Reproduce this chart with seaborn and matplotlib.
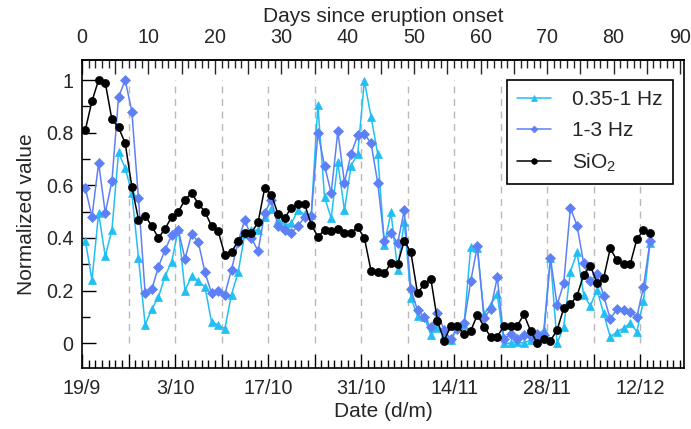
import numpy as np
import pandas as pd
import matplotlib
matplotlib.use("Agg")
import matplotlib.pyplot as plt
import seaborn as sns
from matplotlib.ticker import MultipleLocator, FuncFormatter

# ---------------- data ----------------
days = [d + 0.5 for d in range(86)]  # daily samples (days since onset)

sio2 = [0.81, 0.92, 1.00, 0.99, 0.85, 0.82, 0.76, 0.595, 0.47, 0.485,
        0.445, 0.40, 0.435, 0.48, 0.50, 0.545, 0.57, 0.53, 0.50, 0.445,
        0.425, 0.335, 0.345, 0.39, 0.42, 0.42, 0.46, 0.59, 0.565, 0.49,
        0.475, 0.515, 0.53, 0.53, 0.45, 0.405, 0.43, 0.425, 0.435, 0.42,
        0.42, 0.44, 0.40, 0.275, 0.27, 0.265, 0.305, 0.30, 0.39, 0.345,
        0.19, 0.225, 0.245, 0.085, 0.01, 0.065, 0.065, 0.035, 0.047, 0.108,
        0.063, 0.025, 0.025, 0.066, 0.066, 0.066, 0.11, 0.048, 0.0, 0.015,
        0.01, 0.05, 0.133, 0.148, 0.18, 0.26, 0.295, 0.23, 0.247, 0.36,
        0.316, 0.30, 0.30, 0.395, 0.43, 0.418]

hz_1_3 = [0.59, 0.48, 0.685, 0.495, 0.615, 0.935, 1.0, 0.88, 0.55, 0.19,
          0.205, 0.29, 0.355, 0.41, 0.43, 0.32, 0.415, 0.385, 0.27, 0.19,
          0.20, 0.185, 0.28, 0.385, 0.47, 0.40, 0.35, 0.495, 0.545, 0.445,
          0.43, 0.42, 0.445, 0.48, 0.485, 0.80, 0.675, 0.57, 0.805, 0.61,
          0.72, 0.79, 0.795, 0.76, 0.61, 0.39, 0.42, 0.38, 0.505, 0.205,
          0.125, 0.10, 0.06, 0.115, 0.05, 0.015, 0.053, 0.076, 0.235, 0.37,
          0.095, 0.13, 0.25, 0.015, 0.035, 0.015, 0.03, 0.028, 0.034, 0.032,
          0.325, 0.145, 0.228, 0.515, 0.447, 0.304, 0.237, 0.263, 0.181, 0.092,
          0.129, 0.127, 0.12, 0.10, 0.213, 0.39]

hz_035_1 = [0.39, 0.24, 0.495, 0.33, 0.43, 0.725, 0.665, 0.57, 0.325, 0.07,
            0.13, 0.175, 0.255, 0.31, 0.435, 0.20, 0.255, 0.235, 0.215, 0.08,
            0.07, 0.055, 0.185, 0.27, 0.415, 0.43, 0.43, 0.48, 0.51, 0.47,
            0.45, 0.455, 0.505, 0.49, 0.487, 0.905, 0.555, 0.475, 0.687, 0.505,
            0.675, 0.72, 0.997, 0.86, 0.72, 0.375, 0.497, 0.28, 0.462, 0.173,
            0.104, 0.10, 0.032, 0.057, 0.032, 0.013, 0.066, 0.07, 0.365, 0.36,
            0.11, 0.146, 0.186, 0.0, 0.0, 0.006, 0.0, 0.013, 0.032, 0.051,
            0.325, 0.0, 0.063, 0.272, 0.345, 0.184, 0.142, 0.203, 0.114, 0.023,
            0.044, 0.057, 0.076, 0.044, 0.161, 0.382]

date_tick_days = [0, 14, 28, 42, 56, 70, 84]
date_tick_labels = ["19/9", "3/10", "17/10", "31/10", "14/11", "28/11", "12/12"]
week_lines = [7, 14, 21, 28, 35, 42, 49, 56, 63, 70, 77, 84]

series_names = ["0.35-1 Hz", "1-3 Hz", "SiO$_2$"]
series_values = [hz_035_1, hz_1_3, sio2]

# ---------------- style ----------------
sns.set_style("ticks")
plt.rcParams["font.family"] = ["Liberation Sans", "DejaVu Sans"]
plt.rcParams["mathtext.fontset"] = "custom"
plt.rcParams["mathtext.rm"] = "Liberation Sans"
plt.rcParams["mathtext.it"] = "Liberation Sans:italic"
plt.rcParams["mathtext.default"] = "regular"
plt.rcParams["xtick.direction"] = "in"
plt.rcParams["ytick.direction"] = "in"
FS_TICK = 14.2
FS_LAB = 15.0
FS_LEG = 15.0

colors = ["#22BFF4", "#5E80F6", "#000000"]
markers = ["^", "D", "o"]
msizes = [6.0, 5.0, 5.8]

fig = plt.figure(figsize=(6.91, 4.29), dpi=100)
ax = fig.add_axes([82 / 691, 1 - 368 / 429, 602 / 691, 308 / 429])

ax.vlines(week_lines, 0, 1, colors="#b9b9b9", linestyles=(0, (5, 4)),
          linewidth=1.0, zorder=0)

for name, vals, c, m, ms in zip(series_names, series_values, colors, markers, msizes):
    df = pd.DataFrame({"day": days, "value": vals})
    sns.lineplot(data=df, x="day", y="value", ax=ax, color=c, marker=m,
                 markersize=ms, markeredgecolor=c, markeredgewidth=0.5,
                 linewidth=1.1, label=name)

ax.set_xlim(0, 90.6)
ax.set_ylim(-0.094, 1.076)

# bottom axis: dates
ax.xaxis.set_major_locator(MultipleLocator(7))
ax.xaxis.set_minor_locator(MultipleLocator(1))
lab_map = dict(zip(date_tick_days, date_tick_labels))
ax.xaxis.set_major_formatter(FuncFormatter(lambda v, p: lab_map.get(int(round(v)), "")))
ax.yaxis.set_major_locator(MultipleLocator(0.2))
ax.yaxis.set_minor_locator(MultipleLocator(0.1))
ax.yaxis.set_major_formatter(FuncFormatter(
    lambda v, p: "0" if abs(v) < 1e-9 else ("1" if abs(v - 1) < 1e-9 else f"{v:.1f}")))

ax.tick_params(axis="both", which="both", direction="in", labelsize=FS_TICK,
               width=1.0, color="black", top=False, right=False)
ax.tick_params(axis="both", which="major", length=10)
ax.tick_params(axis="both", which="minor", length=5.5)
ax.tick_params(axis="x", which="major", pad=8)
ax.tick_params(axis="y", which="major", pad=6)

ax.set_xlabel("Date (d/m)", fontsize=FS_LAB, labelpad=3)
ax.set_ylabel("Normalized value", fontsize=FS_LAB, labelpad=7)

# top axis: days since onset
sec = ax.secondary_xaxis("top")
sec.xaxis.set_major_locator(MultipleLocator(5))
sec.xaxis.set_minor_locator(MultipleLocator(1))
sec.xaxis.set_major_formatter(FuncFormatter(
    lambda v, p: f"{int(round(v))}" if int(round(v)) % 10 == 0 else ""))
sec.tick_params(axis="x", which="both", direction="in", labelsize=FS_TICK, width=1.0)
sec.tick_params(axis="x", which="major", length=10, pad=9)
sec.tick_params(axis="x", which="minor", length=5.5)
sec.set_xlabel("Days since eruption onset", fontsize=FS_LAB, labelpad=5)

for s in ax.spines.values():
    s.set_linewidth(1.2)
    s.set_color("black")
for s in sec.spines.values():
    s.set_linewidth(1.2)

leg = ax.legend(loc="upper right", bbox_to_anchor=(0.982, 0.935), borderaxespad=0,
                frameon=True, fancybox=False, edgecolor="black", framealpha=1,
                fontsize=FS_LEG, handlelength=1.65, handletextpad=1.0, labelspacing=0.55,
                markerscale=0.7, borderpad=0.5)
leg.get_frame().set_linewidth(1.2)

fig.savefig("out.png", dpi=100)
